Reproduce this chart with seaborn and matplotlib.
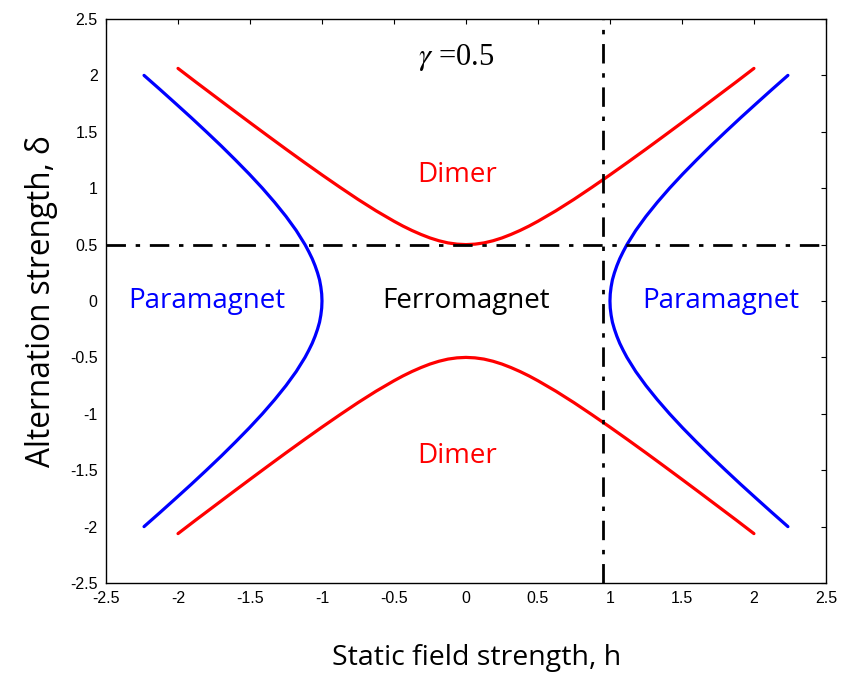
import numpy as np
import pandas as pd
import matplotlib
matplotlib.use("Agg")
import matplotlib.pyplot as plt
import seaborn as sns

# Anisotropy parameter of the chain
gamma = 0.5

# Paramagnet / ferromagnet boundary (one quadrant, mirrored below)
para_delta = [0.0, 0.0625, 0.125, 0.1875, 0.25, 0.3125, 0.375, 0.4375, 0.5, 0.625, 0.75,
              0.875, 1.0, 1.125, 1.25, 1.375, 1.5, 1.625, 1.75, 1.875, 2.0]
para_h = [1.000, 1.002, 1.008, 1.017, 1.031, 1.048, 1.068, 1.092, 1.118, 1.179, 1.250,
          1.329, 1.414, 1.505, 1.601, 1.700, 1.803, 1.908, 2.016, 2.125, 2.236]

# Dimer / ferromagnet boundary (one quadrant, mirrored below)
dimer_h = [0.0, 0.0625, 0.125, 0.1875, 0.25, 0.3125, 0.375, 0.4375, 0.5, 0.625, 0.75,
           0.875, 1.0, 1.125, 1.25, 1.375, 1.5, 1.625, 1.75, 1.875, 2.0]
dimer_delta = [0.500, 0.504, 0.515, 0.534, 0.559, 0.590, 0.625, 0.664, 0.707, 0.800, 0.901,
               1.008, 1.118, 1.231, 1.346, 1.463, 1.581, 1.700, 1.820, 1.940, 2.062]

# Reference guides
h_guide = 0.955
delta_guide = 0.5

ticks = [-2.5, -2, -1.5, -1, -0.5, 0, 0.5, 1, 1.5, 2, 2.5]
tick_labels = ["-2.5", "-2", "-1.5", "-1", "-0.5", "0", "0.5", "1", "1.5", "2", "2.5"]

phase_labels = [
    ("Dimer", -0.06, 1.12, "red"),
    ("Dimer", -0.06, -1.37, "red"),
    ("Paramagnet", -1.80, 0.0, "blue"),
    ("Paramagnet", 1.77, 0.0, "blue"),
    ("Ferromagnet", 0.0, 0.0, "black"),
]


def full_branch(a, b):
    """Build a full branch from one quadrant by mirroring the first coordinate."""
    a = np.asarray(a)
    b = np.asarray(b)
    return np.concatenate([-a[::-1], a[1:]]), np.concatenate([b[::-1], b[1:]])


rows = []
d, h = full_branch(para_delta, para_h)
for sign, name in [(1, "para_right"), (-1, "para_left")]:
    for hv, dv in zip(sign * h, d):
        rows.append(dict(h=hv, delta=dv, boundary="para", branch=name))
hh, dd = full_branch(dimer_h, dimer_delta)
for sign, name in [(1, "dimer_up"), (-1, "dimer_down")]:
    for hv, dv in zip(hh, sign * dd):
        rows.append(dict(h=hv, delta=dv, boundary="dimer", branch=name))
df = pd.DataFrame(rows)

sns.set_theme(style="white")
plt.rcParams["font.family"] = ["Liberation Sans", "DejaVu Sans"]
plt.rcParams["mathtext.fontset"] = "stix"

fig = plt.figure(figsize=(8.55, 6.73), dpi=100)
ax = fig.add_axes([0.124, 0.1337, 0.842, 0.8381])

sns.lineplot(
    data=df, x="h", y="delta", hue="boundary", units="branch",
    estimator=None, sort=False, palette={"para": "#0000ff", "dimer": "#ff0000"},
    linewidth=2.3, legend=False, ax=ax,
)
for ln in ax.get_lines():
    ln.set_solid_joinstyle("round")

dashdot = (0, (7, 3.5, 1.6, 3.5))
ax.axhline(delta_guide, color="black", lw=2.0, linestyle=dashdot)
ax.axvline(h_guide, color="black", lw=2.0, linestyle=dashdot)

ax.set_xlim(-2.5, 2.5)
ax.set_ylim(-2.5, 2.5)
ax.set_xticks(ticks)
ax.set_xticklabels(tick_labels)
ax.set_yticks(ticks)
ax.set_yticklabels(tick_labels)
ax.tick_params(direction="in", length=3.5, width=0.8, top=True, right=True,
               labelsize=11.5, colors="black", pad=6)
for s in ax.spines.values():
    s.set_visible(True)
    s.set_color("black")
    s.set_linewidth(1.0)

sans = ["Open Sans", "DejaVu Sans"]
ax.set_xlabel("Static field strength, h", fontsize=20.5, family=sans,
              labelpad=27, color="black")
ax.xaxis.label.set_x(0.515)
ax.set_ylabel("Alternation strength, δ", fontsize=22.7, family=sans,
              labelpad=9, color="black")

for txt, x, y, c in phase_labels:
    ax.text(x, y, txt, color=c, fontsize=20, ha="center", va="center", family=sans)

ax.text(-0.07, 2.16, r"$\gamma$ =" + f"{gamma}", fontsize=22,
        ha="center", va="center", family=["Liberation Serif", "DejaVu Serif"], color="black")

fig.savefig("out.png", dpi=100, facecolor="white")
